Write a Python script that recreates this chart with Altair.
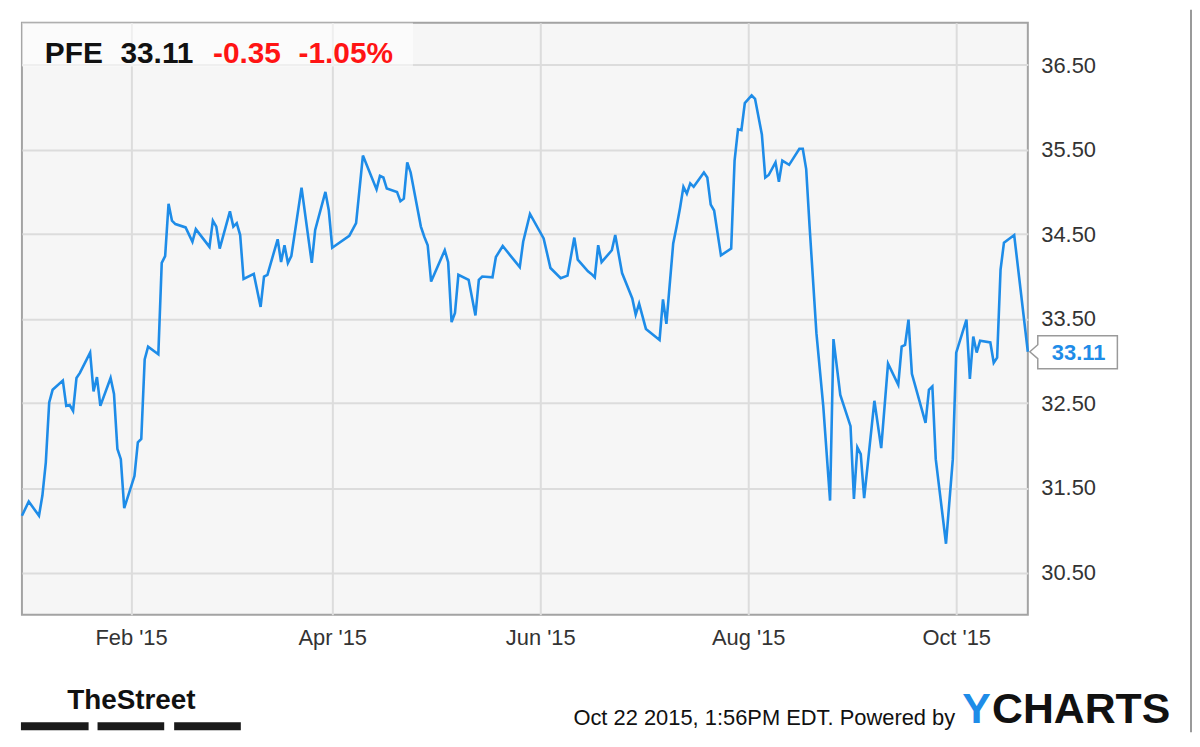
import altair as alt
import pandas as pd

# ---- data ----
dates = [
    "2014-12-31", "2015-01-02", "2015-01-05", "2015-01-06", "2015-01-07", "2015-01-08", "2015-01-09",
    "2015-01-12", "2015-01-13", "2015-01-14", "2015-01-15", "2015-01-16", "2015-01-17", "2015-01-20",
    "2015-01-21", "2015-01-22", "2015-01-23", "2015-01-26", "2015-01-27", "2015-01-28", "2015-01-29",
    "2015-01-30", "2015-02-02", "2015-02-03", "2015-02-04", "2015-02-05", "2015-02-06", "2015-02-09",
    "2015-02-10", "2015-02-11", "2015-02-12", "2015-02-13", "2015-02-14", "2015-02-17", "2015-02-19",
    "2015-02-20", "2015-02-24", "2015-02-25", "2015-02-26", "2015-02-27", "2015-03-02", "2015-03-03",
    "2015-03-04", "2015-03-05", "2015-03-06", "2015-03-09", "2015-03-11", "2015-03-12", "2015-03-13",
    "2015-03-16", "2015-03-17", "2015-03-18", "2015-03-19", "2015-03-20", "2015-03-23", "2015-03-26",
    "2015-03-27", "2015-03-30", "2015-03-31", "2015-04-01", "2015-04-06", "2015-04-08", "2015-04-10",
    "2015-04-14", "2015-04-15", "2015-04-16", "2015-04-17", "2015-04-20", "2015-04-21", "2015-04-22",
    "2015-04-23", "2015-04-24", "2015-04-27", "2015-04-28", "2015-04-29", "2015-04-30", "2015-05-04",
    "2015-05-05", "2015-05-06", "2015-05-07", "2015-05-08", "2015-05-11", "2015-05-13", "2015-05-14",
    "2015-05-15", "2015-05-18", "2015-05-19", "2015-05-21", "2015-05-26", "2015-05-27", "2015-05-29",
    "2015-06-02", "2015-06-04", "2015-06-07", "2015-06-09", "2015-06-11", "2015-06-12", "2015-06-15",
    "2015-06-16", "2015-06-17", "2015-06-18", "2015-06-19", "2015-06-22", "2015-06-23", "2015-06-25",
    "2015-06-28", "2015-06-29", "2015-06-30", "2015-07-02", "2015-07-06", "2015-07-07", "2015-07-08",
    "2015-07-10", "2015-07-11", "2015-07-12", "2015-07-13", "2015-07-14", "2015-07-15", "2015-07-16",
    "2015-07-19", "2015-07-20", "2015-07-21", "2015-07-22", "2015-07-24", "2015-07-27", "2015-07-28",
    "2015-07-29", "2015-07-30", "2015-07-31", "2015-08-02", "2015-08-03", "2015-08-05", "2015-08-06",
    "2015-08-07", "2015-08-09", "2015-08-10", "2015-08-11", "2015-08-13", "2015-08-16", "2015-08-17",
    "2015-08-18", "2015-08-19", "2015-08-21", "2015-08-23", "2015-08-25", "2015-08-26", "2015-08-28",
    "2015-08-31", "2015-09-01", "2015-09-02", "2015-09-03", "2015-09-04", "2015-09-07", "2015-09-09",
    "2015-09-11", "2015-09-14", "2015-09-15", "2015-09-16", "2015-09-17", "2015-09-18", "2015-09-22",
    "2015-09-23", "2015-09-24", "2015-09-25", "2015-09-28", "2015-09-30", "2015-10-01", "2015-10-04",
    "2015-10-05", "2015-10-06", "2015-10-07", "2015-10-08", "2015-10-11", "2015-10-12", "2015-10-13",
    "2015-10-14", "2015-10-15", "2015-10-18", "2015-10-22",
]

prices = [
    31.17, 31.34, 31.17, 31.41, 31.80, 32.51, 32.66,
    32.77, 32.47, 32.48, 32.41, 32.80, 32.86, 33.10,
    32.64, 32.81, 32.47, 32.80, 32.61, 31.96, 31.84,
    31.26, 31.64, 32.04, 32.08, 33.02, 33.17, 33.08,
    34.16, 34.24, 34.86, 34.66, 34.62, 34.58, 34.41,
    34.56, 34.35, 34.66, 34.59, 34.33, 34.77, 34.59,
    34.63, 34.49, 33.97, 34.03, 33.64, 34.00, 34.02,
    34.44, 34.17, 34.37, 34.16, 34.24, 35.05, 34.16,
    34.55, 35.00, 34.78, 34.34, 34.48, 34.63, 35.43,
    35.03, 35.19, 35.17, 35.04, 35.00, 34.89, 34.92,
    35.35, 35.23, 34.59, 34.47, 34.37, 33.94, 34.31,
    34.17, 33.46, 33.57, 34.02, 33.96, 33.54, 33.96,
    34.00, 33.99, 34.23, 34.36, 34.11, 34.41, 34.74,
    34.45, 34.10, 33.98, 34.01, 34.46, 34.20, 34.06,
    34.03, 33.99, 34.37, 34.17, 34.31, 34.49, 34.04,
    33.74, 33.55, 33.68, 33.38, 33.25, 33.73, 33.44,
    34.39, 34.59, 34.81, 35.06, 34.98, 35.10, 35.06,
    35.23, 35.17, 34.85, 34.78, 34.25, 34.33, 35.37,
    35.74, 35.73, 36.05, 36.14, 36.10, 35.68, 35.17,
    35.20, 35.35, 35.12, 35.37, 35.32, 35.51, 35.51,
    35.27, 34.59, 33.33, 32.47, 31.35, 33.26, 32.60,
    32.23, 31.37, 31.98, 31.90, 31.38, 32.53, 31.97,
    32.97, 32.72, 33.17, 33.19, 33.49, 32.85, 32.27,
    32.66, 32.70, 31.84, 30.84, 31.84, 33.10, 33.49,
    32.79, 33.29, 33.10, 33.24, 33.22, 32.98, 33.04,
    34.08, 34.40, 34.49, 33.11,
]

y_ticks = [30.5, 31.5, 32.5, 33.5, 34.5, 35.5, 36.5]
x_ticks = ["2015-02-01", "2015-04-01", "2015-06-01", "2015-08-01", "2015-10-01"]
x_domain = ["2014-12-31", "2015-10-22"]
y_domain = [30, 37]

header_parts = ["PFE", "33.11", "-0.35", "-1.05%"]
footer_stamp = "Oct 22 2015, 1:56PM EDT.  Powered by"
logo_parts = ["Y", "CHARTS"]
street_logo = "TheStreet"

# ---- styles ----
FONT = "Liberation Sans"
LINE_BLUE = "#1e8ce8"
RED = "#ff1414"
DARK = "#111111"
AXIS_TXT = "#333333"

df = pd.DataFrame({"date": pd.to_datetime(dates), "price": prices})
last = df.tail(1)


def dt(s):
    t = pd.Timestamp(s)
    return alt.DateTime(year=t.year, month=t.month, date=t.day)


x_enc = alt.X(
    "date:T",
    scale=alt.Scale(domain=[dt(d) for d in x_domain]),
    axis=alt.Axis(
        values=[dt(d) for d in x_ticks],
        format="%b '%y",
        title=None,
        ticks=False,
        domain=False,
        labelFontSize=22,
        labelFont=FONT,
        labelColor=AXIS_TXT,
        labelPadding=13,
        gridColor="#dcdcdc",
        gridWidth=2,
    ),
)
y_enc = alt.Y(
    "price:Q",
    scale=alt.Scale(domain=y_domain, nice=False, zero=False),
    axis=alt.Axis(
        orient="right",
        values=y_ticks,
        format=".2f",
        title=None,
        ticks=False,
        domain=False,
        labelFontSize=22,
        labelFont=FONT,
        labelColor=AXIS_TXT,
        labelPadding=13,
        labelFlush=False,
        gridColor="#dcdcdc",
        gridWidth=2,
    ),
)


def one():
    return pd.DataFrame({"k": [0]})


def label(txt, x, y, size, color, weight="normal", align="left", font=FONT):
    return (
        alt.Chart(pd.DataFrame({"t": [txt]}))
        .mark_text(
            fontSize=size,
            fontWeight=weight,
            color=color,
            align=align,
            baseline="alphabetic",
            font=font,
        )
        .encode(x=alt.value(x), y=alt.value(y), text="t:N")
    )


header_bg = (
    alt.Chart(one())
    .mark_rect(color="white", opacity=0.55)
    .encode(x=alt.value(0), x2=alt.value(393), y=alt.value(0), y2=alt.value(44))
)

line = (
    alt.Chart(df)
    .mark_line(color=LINE_BLUE, strokeWidth=2.6)
    .encode(x=x_enc, y=y_enc)
)

callout_shape = "M0.2,0 L1.0,-0.7 L1.0,-1.6 L9.0,-1.6 L9.0,1.7 L1.0,1.7 L1.0,0.7 Z"
callout = (
    alt.Chart(last)
    .mark_point(
        shape=callout_shape,
        size=400,
        fill="white",
        fillOpacity=1,
        stroke="#9a9a9a",
        strokeWidth=1.5,
        opacity=1,
    )
    .encode(x=alt.value(1011), y=alt.Y("price:Q"))
)
callout_txt = (
    alt.Chart(last)
    .mark_text(
        fontSize=22,
        fontWeight="bold",
        color=LINE_BLUE,
        align="center",
        baseline="middle",
        font=FONT,
        dy=1,
    )
    .encode(x=alt.value(1062), y=alt.Y("price:Q"), text=alt.Text("price:Q", format=".2f"))
)

hdr = [
    label(header_parts[0], 23, 40, 30, DARK, "bold"),
    label(header_parts[1], 99, 40, 30, DARK, "bold"),
    label(header_parts[2], 192, 40, 30, RED, "bold"),
    label(header_parts[3], 278, 40, 30, RED, "bold"),
]

footer = [
    label(footer_stamp, 938, 706, 22, DARK, "normal", "right"),
    label(logo_parts[0], 945, 704, 43, LINE_BLUE, "bold"),
    label(logo_parts[1], 975, 704, 43, DARK, "bold"),
    label(street_logo, 110, 690, 28, DARK, "bold", "center"),
]

bars = [
    alt.Chart(one())
    .mark_rect(color="#1a1a1a")
    .encode(x=alt.value(a), x2=alt.value(b), y=alt.value(703), y2=alt.value(711))
    for a, b in [(-1, 67), (76, 143), (153, 220)]
]

outer_edge = (
    alt.Chart(one())
    .mark_rule(color="#9a9a9a", strokeWidth=2)
    .encode(x=alt.value(1175), y=alt.value(-13), y2=alt.value(713))
)

chart = (
    alt.layer(header_bg, line, callout, callout_txt, *hdr, *footer, *bars, outer_edge)
    .properties(
        width=1011,
        height=595,
        autosize=alt.AutoSizeParams(type="none"),
        padding={"left": 14, "top": 13, "right": 165, "bottom": 118},
        background="white",
    )
    .configure_view(fill="#f6f6f6", stroke="#a3a3a3", strokeWidth=2)
)

chart.save("out.html", embed_options={"renderer": "svg", "actions": False})
